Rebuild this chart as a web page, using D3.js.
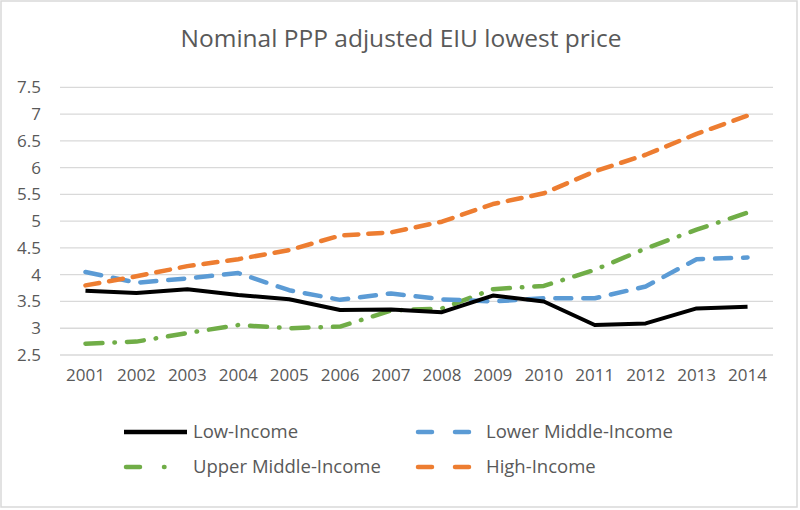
<!DOCTYPE html>
<html><head><meta charset="utf-8">
<script src="https://cdn.jsdelivr.net/npm/d3@7"></script>
<style>body{margin:0;background:#fff}svg{display:block}text{font-family:"Open Sans",sans-serif;fill:#595959}</style>
</head><body>
<script>
const years = ["2001","2002","2003","2004","2005","2006","2007","2008","2009","2010","2011","2012","2013","2014"];
const lowIncome = [3.70,3.66,3.73,3.62,3.54,3.34,3.35,3.30,3.61,3.50,3.06,3.09,3.37,3.40];
const lowerMiddle = [4.05,3.85,3.93,4.03,3.71,3.53,3.65,3.54,3.50,3.56,3.56,3.78,4.29,4.32];
const upperMiddle = [2.71,2.75,2.91,3.06,3.00,3.03,3.33,3.37,3.73,3.79,4.09,4.49,4.84,5.16];
const highIncome = [3.80,3.97,4.16,4.29,4.46,4.73,4.79,4.99,5.32,5.52,5.93,6.24,6.63,6.97];
const yTicks = [2.5,3,3.5,4,4.5,5,5.5,6,6.5,7,7.5];
const seriesNames = ["Low-Income","Lower Middle-Income","Upper Middle-Income","High-Income"];
const title = "Nominal PPP adjusted EIU lowest price";

const W=800,H=510;
const svg=d3.select("body").append("svg").attr("width",W).attr("height",H);
svg.append("rect").attr("x",1).attr("y",1).attr("width",796).attr("height",506)
  .attr("fill","#fff").attr("stroke","#D9D9D9").attr("stroke-width",1.5);

const x=d3.scaleBand().domain(years).range([60,773]);
const y=d3.scaleLinear().domain([2.5,7.5]).range([355,87.3]);

svg.append("text").attr("x",401).attr("y",47).attr("text-anchor","middle")
  .style("font-size","24.5px").text(title);

// gridlines
svg.append("g").selectAll("line").data(yTicks).join("line")
  .attr("x1",60).attr("x2",773).attr("y1",d=>y(d)).attr("y2",d=>y(d))
  .attr("stroke","#D9D9D9").attr("stroke-width",1.3);

// y axis labels
const yAxis=d3.axisLeft(y).tickValues(yTicks).tickSize(0).tickPadding(0).tickFormat(d=>String(d));
const gy=svg.append("g").attr("transform","translate(41,0)").call(yAxis);
gy.select(".domain").remove();
gy.selectAll("text").style("font-size","17px").attr("fill","#595959").style("font-family","'Open Sans',sans-serif");

// x axis
const xAxis=d3.axisBottom(x).tickSize(0).tickPadding(0);
const gx=svg.append("g").attr("transform","translate(0,369)").call(xAxis);
gx.select(".domain").remove();
gx.selectAll("text").style("font-size","17px").attr("fill","#595959").style("font-family","'Open Sans',sans-serif");

const series=[
 {name:seriesNames[0],vals:lowIncome,color:"#000000",dash:null,w:4},
 {name:seriesNames[1],vals:lowerMiddle,color:"#5B9BD5",dash:"16,12",w:4.5},
 {name:seriesNames[2],vals:upperMiddle,color:"#70AD47",dash:"17,12,0.5,12",w:4.5},
 {name:seriesNames[3],vals:highIncome,color:"#ED7D31",dash:"14,10",w:4.5}
];
const line=d3.line().x((d,i)=>x(years[i])+x.bandwidth()/2).y(d=>y(d));
const order=[2,1,0,3];
order.forEach(k=>{
  const s=series[k];
  svg.append("path").datum(s.vals).attr("d",line).attr("fill","none")
    .attr("stroke",s.color).attr("stroke-width",s.w)
    .attr("stroke-linejoin","round").attr("stroke-linecap",s.dash?"round":"butt")
    .attr("stroke-dasharray",s.dash);
});

// legend
const leg=[
 {s:series[0],x:124,y:432,tx:193},
 {s:series[1],x:416,y:432,tx:486},
 {s:series[2],x:124,y:467,tx:193},
 {s:series[3],x:416,y:467,tx:486}
];
leg.forEach(l=>{
  const g=svg.append("g");
  if(!l.s.dash){
    g.append("line").attr("x1",l.x).attr("x2",l.x+63).attr("y1",l.y).attr("y2",l.y)
      .attr("stroke",l.s.color).attr("stroke-width",4.5);
  } else {
    g.append("line").attr("x1",l.x+2).attr("x2",l.x+61).attr("y1",l.y).attr("y2",l.y)
      .attr("stroke",l.s.color).attr("stroke-width",4.5).attr("stroke-linecap","round")
      .attr("stroke-dasharray",l.s===series[2]?"14,24,0.5,30":"14,23");
  }
  g.append("text").attr("x",l.tx).attr("y",l.y).attr("dy","0.35em")
    .style("font-size","18.5px").text(l.s.name);
});
</script>
</body></html>
